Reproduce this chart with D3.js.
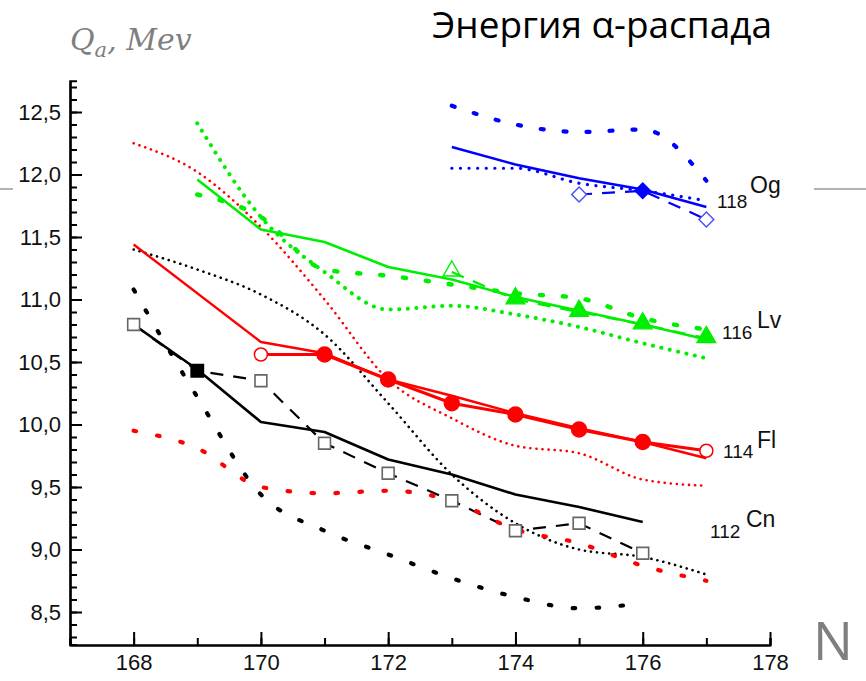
<!DOCTYPE html>
<html><head><meta charset="utf-8">
<script src="https://cdn.jsdelivr.net/npm/d3@7"></script>
<style>
html,body{margin:0;padding:0;background:#fff;}
svg{display:block;}
</style></head>
<body>
<svg id="chart" width="866" height="681"></svg>
<script>
// ---------- DATA ----------
const xTicks = [168, 170, 172, 174, 176, 178];
const yTicks = [8.5, 9.0, 9.5, 10.0, 10.5, 11.0, 11.5, 12.0, 12.5];

// 118 Og (blue)
const ogN        = [173, 174, 175, 176, 177];
const ogSolid    = [12.22, 12.08, 11.97, 11.88, 11.74];
const ogDotted   = [12.05, 12.05, 11.93, 11.87, 11.79];
const ogBigDot   = [12.55, 12.40, 12.34, 12.36, 11.95];
const ogExpN     = [175, 176, 177];
const ogExp      = [11.84, 11.87, 11.64];

// 116 Lv (green)
const lvN        = [169, 170, 171, 172, 173, 174, 175, 176, 177];
const lvSolid    = [11.96, 11.56, 11.46, 11.26, 11.16, 11.02, 10.91, 10.80, 10.68];
const lvBigDot   = [11.84, 11.66, 11.24, 11.19, 11.12, 11.05, 11.01, 10.85, 10.76];
const lvDotted   = [12.41, 11.66, 11.22, 10.92, 10.95, 10.88, 10.78, 10.65, 10.53];
const lvExpN     = [173, 174, 175, 176, 177];
const lvExp      = [11.22, 11.00, 10.90, 10.80, 10.69];

// 114 Fl (red)
const flSolidN   = [168, 170, 171, 172, 173, 174, 175, 176, 177];
const flSolid    = [11.44, 10.66, 10.57, 10.36, 10.23, 10.09, 9.97, 9.86, 9.73];
const flN        = [168, 169, 170, 171, 172, 173, 174, 175, 176, 177];
const flDotted   = [12.25, 12.02, 11.58, 11.00, 10.36, 10.05, 9.83, 9.77, 9.56, 9.51];
const flBigDot   = [9.95, 9.81, 9.50, 9.45, 9.47, 9.39, 9.16, 9.05, 8.87, 8.75];
const flExpN     = [170, 171, 172, 173, 174, 175, 176, 177];
const flExp      = [10.56, 10.56, 10.36, 10.17, 10.08, 9.96, 9.86, 9.79];

// 112 Cn (black)
const cnN        = [168, 169, 170, 171, 172, 173, 174, 175, 176];
const cnSolid    = [10.80, 10.44, 10.02, 9.94, 9.72, 9.60, 9.44, 9.34, 9.22];
const cnExp      = [10.80, 10.43, 10.35, 9.85, 9.61, 9.39, 9.15, 9.21, 8.97];
const cnBigDot   = [11.08, 10.22, 9.44, 9.15, 8.96, 8.77, 8.62, 8.53, 8.57];
const cnDottedN  = [168, 169, 170, 171, 172, 173, 174, 175, 176, 177];
const cnDotted   = [11.40, 11.24, 11.04, 10.72, 10.17, 9.60, 9.21, 9.00, 8.94, 8.80];

// ---------- CHART ----------
const svg = d3.select("#chart");
const x = d3.scaleLinear().domain([167, 178]).range([70, 770]);
const y = d3.scaleLinear().domain([8.24, 12.75]).range([644.5, 80.75]);

const RED = "#ff0000", GREEN = "#00ee00", BLUE = "#0000ff", BLACK = "#000000";

// decorations
svg.append("line").attr("x1", 0).attr("x2", 13).attr("y1", 189).attr("y2", 189)
  .attr("stroke", "#9a9a9a").attr("stroke-width", 1.5);
svg.append("line").attr("x1", 814).attr("x2", 866).attr("y1", 189).attr("y2", 189)
  .attr("stroke", "#9a9a9a").attr("stroke-width", 1.5);

// title (fit to the reference width)
const title = svg.append("text").attr("x", 432).attr("y", 38)
  .attr("font-family", "'Open Sans', 'Noto Sans', sans-serif").attr("font-size", 32)
  .attr("fill", "#000").text("Энергия α-распада");
const tw = title.node().getComputedTextLength();
if (tw > 0) title.attr("font-size", 32 * 340 / tw);

// y label Q_a, Mev
const ql = svg.append("text").attr("x", 70).attr("y", 50)
  .attr("font-family", "'DejaVu Serif', serif").attr("font-style", "italic")
  .attr("font-size", 30).attr("fill", "#7f7f7f");
ql.append("tspan").text("Q");
ql.append("tspan").attr("font-size", 21).attr("dy", 7).text("a");
ql.append("tspan").attr("dy", -7).text(", Mev");

// x label N
svg.append("text").attr("x", 813).attr("y", 660)
  .attr("font-family", "'Open Sans', sans-serif").attr("font-size", 53)
  .attr("fill", "#7f7f7f").text("N");

// axes
const fmt = d => d3.format(".1f")(d).replace(".", ",");
const yMinor = d3.range(83, 128).map(v => v / 10).filter(v => v >= 8.25 && v <= 12.75);
const gy = svg.append("g").attr("transform", "translate(70,0)");
gy.call(d3.axisLeft(y).tickValues(yMinor).tickSize(-7).tickFormat(""));
const gy2 = svg.append("g").attr("transform", "translate(70,0)");
gy2.call(d3.axisLeft(y).tickValues(yTicks).tickSizeInner(-12).tickSizeOuter(0).tickPadding(9).tickFormat(fmt));
[gy, gy2].forEach(g => {
  g.select(".domain").attr("stroke-width", 2.2);
  g.selectAll(".tick line").attr("stroke-width", 2);
  g.selectAll("text").attr("font-family", "'Liberation Sans', Arial, sans-serif").attr("font-size", 22).attr("fill", "#111");
});
const gx = svg.append("g").attr("transform", "translate(0,645)");
gx.call(d3.axisBottom(x).tickValues(d3.range(167, 179)).tickSize(-7).tickFormat(""));
const gx2 = svg.append("g").attr("transform", "translate(0,645)");
gx2.call(d3.axisBottom(x).tickValues(xTicks).tickSizeInner(-13).tickSizeOuter(0).tickPadding(9).tickFormat(d3.format("d")));
[gx, gx2].forEach(g => {
  g.select(".domain").attr("stroke-width", 2.2);
  g.selectAll(".tick line").attr("stroke-width", 2);
  g.selectAll("text").attr("font-family", "'Liberation Sans', Arial, sans-serif").attr("font-size", 22).attr("fill", "#111");
});

// lines
function draw(ns, vs, color, opt) {
  const line = d3.line().x(d => x(d[0])).y(d => y(d[1]))
    .curve(opt.smooth ? d3.curveMonotoneX : d3.curveLinear);
  svg.append("path").datum(ns.map((n, i) => [n, vs[i]]))
    .attr("d", line).attr("fill", "none").attr("stroke", color)
    .attr("stroke-width", opt.w || 2)
    .attr("stroke-dasharray", opt.dash || null)
    .attr("stroke-linecap", opt.cap || "butt")
    .attr("stroke-linejoin", "round");
}
const FINE = { w: 2.6, dash: "0.1,6", cap: "round", smooth: true };
const BIG  = { w: 4.2, dash: "2.5,21.5", cap: "round", smooth: true };
const DASH = { w: 2.2, dash: "13,10" };

// Cn
draw(cnDottedN, cnDotted, BLACK, FINE);
draw(cnN, cnBigDot, BLACK, BIG);
draw(cnN, cnExp, BLACK, DASH);
draw(cnN, cnSolid, BLACK, { w: 2.6 });
// Fl
draw(flN, flDotted, RED, FINE);
draw(flN, flBigDot, RED, BIG);
draw(flSolidN, flSolid, RED, { w: 2.4 });
draw(flExpN, flExp, RED, { w: 3 });
// Lv
draw(lvN, lvDotted, GREEN, { w: 4, dash: "0.1,8.5", cap: "round", smooth: true });
draw(lvN, lvBigDot, GREEN, { w: 4.5, dash: "3,20", cap: "round", smooth: true });
draw(lvN, lvSolid, GREEN, { w: 2.6 });
draw(lvExpN, lvExp, GREEN, DASH);
// Og
draw(ogN, ogDotted, BLUE, { w: 3.2, dash: "0.1,8.5", cap: "round", smooth: true });
draw(ogN, ogBigDot, BLUE, { w: 4.2, dash: "3,20", cap: "round", smooth: true });
draw(ogN, ogSolid, BLUE, { w: 2.4 });
draw(ogExpN, ogExp, BLUE, DASH);

// markers
const sym = (type, size) => d3.symbol().type(type).size(size)();
// Cn squares (169 filled)
cnN.forEach((n, i) => {
  const filled = n === 169;
  svg.append("path").attr("d", sym(d3.symbolSquare, filled ? 150 : 140))
    .attr("transform", `translate(${x(n)},${y(cnExp[i])})`)
    .attr("fill", filled ? "#000" : "#fff").attr("stroke", filled ? "#000" : "#666").attr("stroke-width", 1.6);
});
// Fl circles
flExpN.forEach((n, i) => {
  const open = (n === 170 || n === 177);
  svg.append("circle").attr("cx", x(n)).attr("cy", y(flExp[i])).attr("r", open ? 6.5 : 7.5)
    .attr("fill", open ? "#fff" : RED).attr("stroke", RED).attr("stroke-width", 1.5);
});
// Lv triangles
lvExpN.forEach((n, i) => {
  const open = n === 173;
  svg.append("path").attr("d", sym(d3.symbolTriangle, open ? 130 : 150))
    .attr("transform", `translate(${x(n)},${y(lvExp[i]) - 1})`)
    .attr("fill", open ? "none" : GREEN).attr("stroke", GREEN).attr("stroke-width", 1.4);
});
// Og diamonds
ogExpN.forEach((n, i) => {
  const filled = n === 176;
  svg.append("path").attr("d", sym(d3.symbolSquare, filled ? 120 : 110))
    .attr("transform", `translate(${x(n)},${y(ogExp[i])}) rotate(45)`)
    .attr("fill", filled ? BLUE : "#fff").attr("stroke", filled ? BLUE : "#4a4aff").attr("stroke-width", 1.4);
});

// element labels
const labels = [
  { z: "118", s: "Og", zx: 717, zy: 208, sx: 750, sy: 193 },
  { z: "116", s: "Lv", zx: 722, zy: 339, sx: 757, sy: 328 },
  { z: "114", s: "Fl", zx: 723, zy: 458, sx: 757, sy: 448 },
  { z: "112", s: "Cn", zx: 710, zy: 538, sx: 746, sy: 527 }
];
labels.forEach(l => {
  svg.append("text").attr("x", l.zx).attr("y", l.zy)
    .attr("font-family", "'Liberation Sans', Arial, sans-serif").attr("font-size", 19).attr("fill", "#111").text(l.z);
  svg.append("text").attr("x", l.sx).attr("y", l.sy)
    .attr("font-family", "'Liberation Sans', Arial, sans-serif").attr("font-size", 23).attr("fill", "#111").text(l.s);
});
</script>
</body></html>
